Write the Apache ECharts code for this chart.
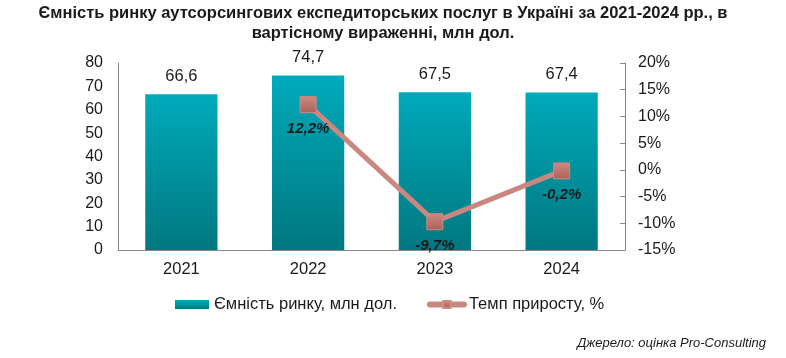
<!DOCTYPE html>
<html><head><meta charset="utf-8">
<script src="https://cdn.jsdelivr.net/npm/echarts@6/dist/echarts.min.js"></script>
<style>html,body{margin:0;padding:0;background:#fff}#c{width:786px;height:358px}</style>
</head><body><div id="c"></div>
<script>
const categories = ['2021', '2022', '2023', '2024'];
const marketValues = [66.6, 74.7, 67.5, 67.4];
const growthValues = [null, 12.2, -9.7, -0.2];
const leftTicks = [0, 10, 20, 30, 40, 50, 60, 70, 80];
const rightTicks = [-15, -10, -5, 0, 5, 10, 15, 20];

const fmt = v => String(v).replace('.', ',');
const font = 'Liberation Sans, Arial, sans-serif';
const chart = echarts.init(document.getElementById('c'), null, {renderer: 'canvas'});
chart.setOption({
  animation: false,
  textStyle: {fontFamily: font},
  graphic: [{
    type: 'text', x: 383, y: 3,
    style: {text: 'Ємність ринку аутсорсингових експедиторських послуг в Україні за 2021-2024 рр., в\nвартісному вираженні, млн дол.',
      font: 'bold 16.5px ' + font, fill: '#1a1a1a', align: 'center', verticalAlign: 'top', lineHeight: 20}
  }, {
    type: 'text', right: 20, top: 337,
    style: {text: 'Джерело: оцінка Pro-Consulting', font: 'italic 13px ' + font, fill: '#1a1a1a'}
  }],
  legend: {
    top: 291, left: 170, itemGap: 30, itemWidth: 34, itemHeight: 9,
    textStyle: {fontSize: 16.5, color: '#1a1a1a', fontFamily: font},
    data: [
      {name: 'Ємність ринку, млн дол.', icon: 'rect'},
      {name: 'Темп приросту, %', lineStyle: {width: 6, color: '#c8877f'}}
    ]
  },
  grid: {left: 118, right: 161, top: 63, bottom: 108},
  xAxis: {
    type: 'category', data: categories,
    axisLine: {lineStyle: {color: '#888', width: 1}},
    axisTick: {show: false},
    axisLabel: {fontSize: 16.5, color: '#1a1a1a', margin: 11}
  },
  yAxis: [{
    type: 'value', min: 0, max: 80, interval: 10,
    axisLine: {show: true, lineStyle: {color: '#888'}},
    axisTick: {show: false},
    splitLine: {show: false},
    axisLabel: {fontSize: 16, color: '#1a1a1a', margin: 15}
  }, {
    type: 'value', min: -15, max: 20, interval: 5,
    axisLine: {show: true, lineStyle: {color: '#888'}},
    axisTick: {show: true, inside: true, length: 5, lineStyle: {color: '#888'}},
    splitLine: {show: false},
    axisLabel: {fontSize: 16, color: '#1a1a1a', margin: 13, formatter: v => v + '%'}
  }],
  series: [{
    name: 'Ємність ринку, млн дол.', type: 'bar', data: marketValues, barWidth: '57%',
    itemStyle: {color: new echarts.graphic.LinearGradient(0, 0, 0, 1, [
      {offset: 0, color: '#00aabb'}, {offset: 1, color: '#007880'}])},
    label: {show: true, position: 'top', distance: 9, fontSize: 16.5, color: '#1a1a1a', formatter: p => fmt(p.value)}
  }, {
    name: 'Темп приросту, %', type: 'line', yAxisIndex: 1, data: growthValues,
    symbol: 'rect', symbolSize: 16,
    lineStyle: {color: '#c8877f', width: 5, cap: 'round'},
    itemStyle: {color: new echarts.graphic.LinearGradient(0, 0, 0, 1, [
      {offset: 0, color: '#cf8a80'}, {offset: 1, color: '#a8615a'}]), borderColor: '#cf8a80', borderWidth: 1},
    label: {show: true, position: 'bottom', distance: 8, fontSize: 15, fontWeight: 'bold', fontStyle: 'italic', color: '#1a1a1a',
      formatter: p => fmt(p.value) + '%'}
  }]
});
</script></body></html>
